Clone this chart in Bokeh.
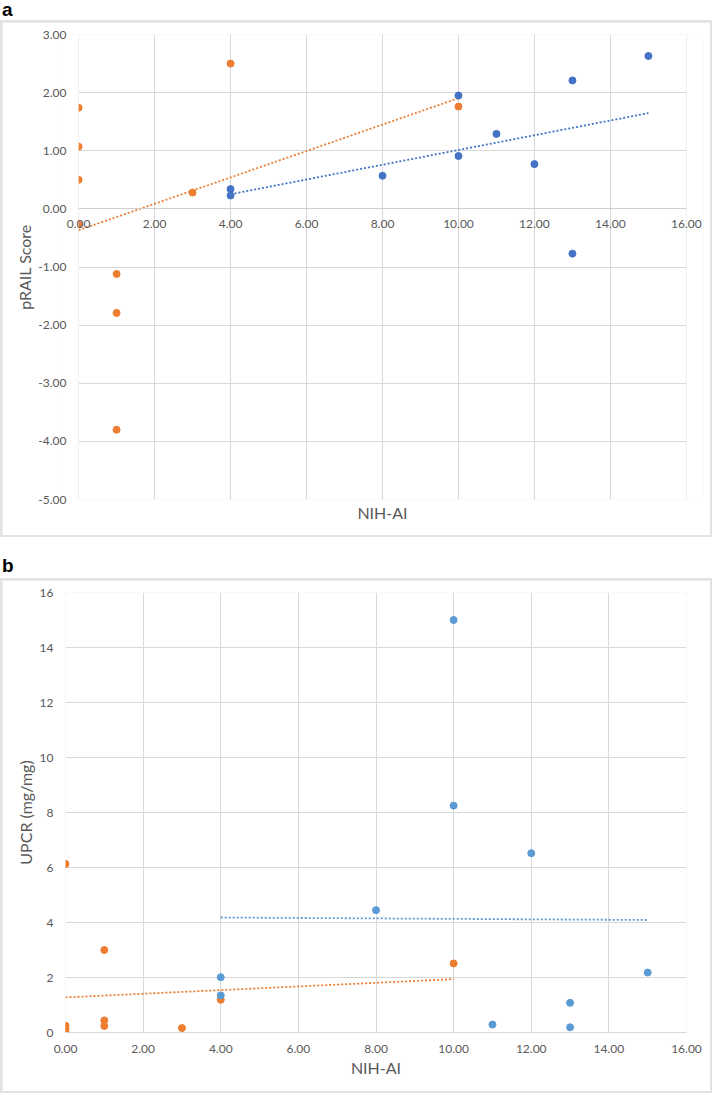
import numpy as np
from bokeh.plotting import figure
from bokeh.layouts import column
from bokeh.models import (Div, LinearAxis, FixedTicker, NumeralTickFormatter,
                          Range1d, BoxAnnotation)
from bokeh.embed import file_html
from bokeh.resources import INLINE

# ---------------- data ----------------
# panel a: pRAIL score vs NIH-AI
a_orange_x = [0, 0, 0, 0, 1, 1, 1, 3, 4, 10]
a_orange_y = [1.74, 1.07, 0.50, -0.27, -1.12, -1.79, -3.80, 0.28, 2.50, 1.76]
a_blue_x = [4, 4, 8, 10, 10, 11, 12, 13, 13, 15]
a_blue_y = [0.34, 0.23, 0.57, 1.95, 0.91, 1.29, 0.77, 2.21, -0.77, 2.63]

# panel b: UPCR vs NIH-AI
b_orange_x = [0, 0, 0, 0, 1, 1, 1, 3, 4, 10]
b_orange_y = [6.13, 0.25, 0.15, 0.02, 3.00, 0.44, 0.24, 0.16, 1.19, 2.51]
b_blue_x = [4, 4, 8, 10, 10, 11, 12, 13, 13, 15]
b_blue_y = [2.01, 1.35, 4.45, 15.00, 8.25, 0.29, 6.52, 1.08, 0.19, 2.18]

x_ticks = [0, 2, 4, 6, 8, 10, 12, 14, 16]
a_y_ticks = [-5, -4, -3, -2, -1, 0, 1, 2, 3]
b_y_ticks = [0, 2, 4, 6, 8, 10, 12, 14, 16]

ORANGE = "#ED7D31"
BLUE_A = "#4472C4"
BLUE_B = "#5B9BD5"
GRID = "#d9d9d9"
TEXT = "#595959"
FONT = "Lato"
BOX = "#e3e3e3"

W = 712
PW = W - 4


def trend(p, xs, ys, color):
    k, b = np.polyfit(xs, ys, 1)
    x0, x1 = min(xs), max(xs)
    p.line([x0, x1], [k * x0 + b, k * x1 + b], line_color=color,
           line_width=1.8, line_dash="2 2")


def style(p):
    p.toolbar_location = None
    p.frame_align = False
    p.margin = (2, 2, 2, 2)
    p.outline_line_color = None
    p.background_fill_color = "white"
    p.border_fill_color = "white"
    for g in (p.xgrid[0], p.ygrid[0]):
        g.grid_line_color = GRID
        g.grid_line_width = 1
    for ax in p.axis:
        ax.major_tick_line_color = None
        ax.minor_tick_line_color = None
        ax.major_tick_out = 0
        ax.major_tick_in = 0
        ax.minor_tick_out = 0
        ax.minor_tick_in = 0
        ax.major_label_text_font = FONT
        ax.major_label_text_color = TEXT
        ax.major_label_text_font_size = "12px"
        ax.axis_label_text_font = FONT
        ax.axis_label_text_color = TEXT
        ax.axis_label_text_font_size = "16px"
        ax.axis_label_text_font_style = "normal"


# ---------------- panel a ----------------
EXT = 0.45
pa = figure(width=PW, height=513, output_backend="svg", toolbar_location=None,
            x_range=Range1d(-EXT, 16 + EXT), y_range=Range1d(-5, 3),
            min_border_left=59, min_border_right=7, min_border_top=12,
            min_border_bottom=36)
pa.xaxis.ticker = FixedTicker(ticks=x_ticks)
pa.yaxis.ticker = FixedTicker(ticks=a_y_ticks)
pa.xgrid.ticker = FixedTicker(ticks=x_ticks)
pa.ygrid.ticker = FixedTicker(ticks=a_y_ticks)
pa.xaxis.formatter = NumeralTickFormatter(format="0.00")
pa.yaxis.formatter = NumeralTickFormatter(format="0.00")
pa.xaxis.fixed_location = 0
pa.xaxis.bounds = (0, 16)
pa.xaxis.axis_line_color = "#cfcfcf"
pa.yaxis.axis_line_color = None
pa.yaxis.axis_label = "pRAIL Score"

xa_title = LinearAxis(axis_label="NIH-AI", ticker=FixedTicker(ticks=[]),
                      axis_line_color=None, major_label_text_font_size="0px")
pa.add_layout(xa_title, "below")
style(pa)
pa.xaxis[0].major_label_standoff = 11
pa.yaxis.major_label_standoff = -5
pa.yaxis.axis_label_standoff = 1
xa_title.axis_label_standoff = 3

# white masks so the plot area looks bounded by 0..16
pa.add_layout(BoxAnnotation(right=0, fill_color="white", fill_alpha=1,
                            line_color=None, level="glyph"))
pa.add_layout(BoxAnnotation(left=16, fill_color="white", fill_alpha=1,
                            line_color=None, level="glyph"))

trend(pa, a_orange_x, a_orange_y, ORANGE)
trend(pa, a_blue_x, a_blue_y, BLUE_A)
pa.scatter(a_orange_x, a_orange_y, size=7, color=ORANGE)
pa.scatter(a_blue_x, a_blue_y, size=7, color=BLUE_A)

# ---------------- panel b ----------------
pb = figure(width=PW, height=511, output_backend="svg", toolbar_location=None,
            x_range=Range1d(0, 16), y_range=Range1d(0, 16),
            min_border_left=63, min_border_right=24, min_border_top=12,
            min_border_bottom=59)
pb.xaxis.ticker = FixedTicker(ticks=x_ticks)
pb.yaxis.ticker = FixedTicker(ticks=b_y_ticks)
pb.xgrid.ticker = FixedTicker(ticks=x_ticks)
pb.ygrid.ticker = FixedTicker(ticks=b_y_ticks)
pb.xaxis.formatter = NumeralTickFormatter(format="0.00")
pb.xaxis.axis_line_color = GRID
pb.xaxis.axis_label = "NIH-AI"
pb.yaxis.axis_line_color = None
pb.yaxis.axis_label = "UPCR (mg/mg)"
style(pb)
pb.xaxis.major_label_standoff = 12
pb.xaxis.axis_label_standoff = 2
pb.yaxis.major_label_standoff = 12
pb.yaxis.axis_label_standoff = 2

trend(pb, b_orange_x, b_orange_y, ORANGE)
trend(pb, b_blue_x, b_blue_y, BLUE_B)
pb.scatter(b_orange_x, b_orange_y, size=7, color=ORANGE)
pb.scatter(b_blue_x, b_blue_y, size=7, color=BLUE_B)

lab_style = {"font-family": "Liberation Sans", "font-weight": "bold",
             "font-size": "19px", "line-height": "20px", "color": "black",
             "padding-left": "2px"}
div_a = Div(text="a", width=W, height=20, margin=(0, 0, 0, 0), styles=lab_style)
div_b = Div(text="b", width=W, height=41, margin=(0, 0, 0, 0),
            styles=dict(lab_style, **{"padding-top": "19px"}))

box_a = column(pa, spacing=0, styles={"background-color": BOX})
box_b = column(pb, spacing=0, styles={"background-color": BOX})

layout = column(div_a, box_a, div_b, box_b, spacing=0)

open("out.html", "w").write(file_html(layout, INLINE))
